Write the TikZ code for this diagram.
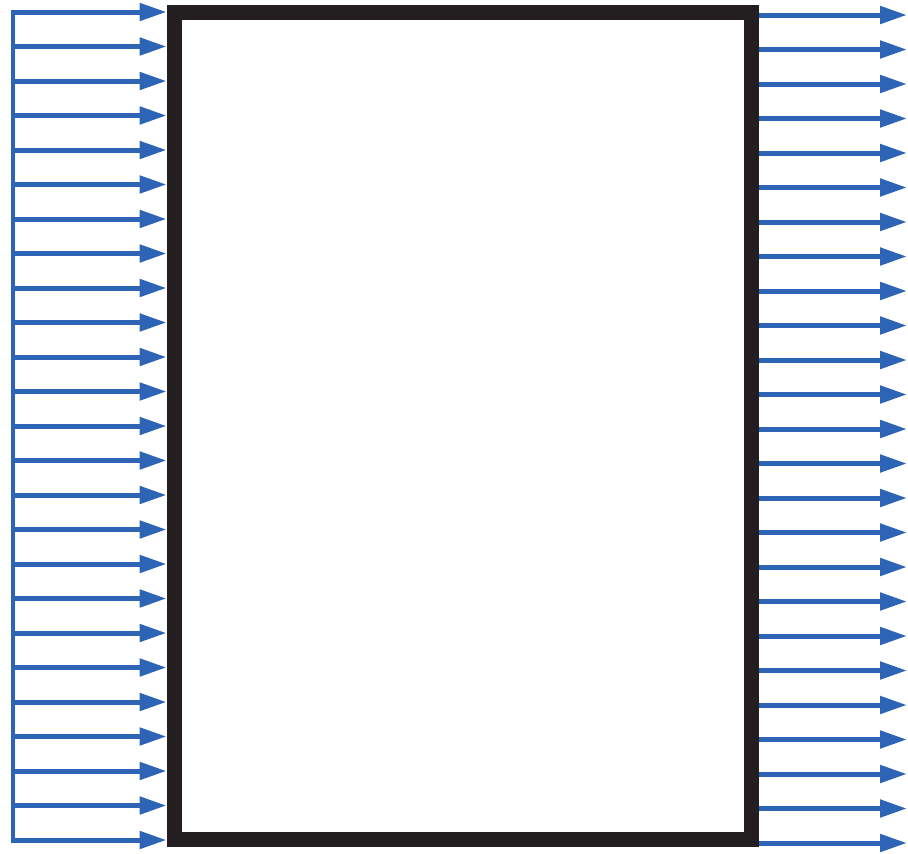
\documentclass[tikz,border=0pt]{standalone}
\usepackage{tikz}
\usetikzlibrary{arrows.meta, positioning}
\definecolor{flowblue}{RGB}{46,100,182}
\definecolor{boxblack}{RGB}{35,31,32}

\begin{document}
\begin{tikzpicture}[x=0.02cm, y=-0.02cm,
    % stile per il blocco centrale
    block/.style={draw=boxblack, rectangle, minimum width=11.56cm, minimum height=16.54cm, line width=0.3cm},
    % stile per le frecce
    arrow/.style={-{Triangle[length=0.54cm, width=0.34cm]}, draw=flowblue, fill=flowblue, line width=0.1cm}
    ]
  \useasboundingbox (0,0) rectangle (908,853);

  % --- BLOCCO CENTRALE ---
  \node [block] (box) at (463,426) {};

  % --- FRECCE IN INGRESSO (sinistra) ---
  \foreach \i in {1,...,25} {
    \coordinate (in\i) at (13, {12+34.5*(\i-1)});
    \draw [arrow] (in\i) -- (in\i -| box.west);
  }
  \draw [flowblue, line width=0.1cm, line cap=rect] (in1) -- (in25);

  % --- FRECCE IN USCITA (destra) ---
  \foreach \i in {1,...,25} {
    \coordinate (out\i) at (907, {15+34.5*(\i-1)});
    \draw [arrow] (out\i -| box.east) -- (out\i);
  }
\end{tikzpicture}
\end{document}
